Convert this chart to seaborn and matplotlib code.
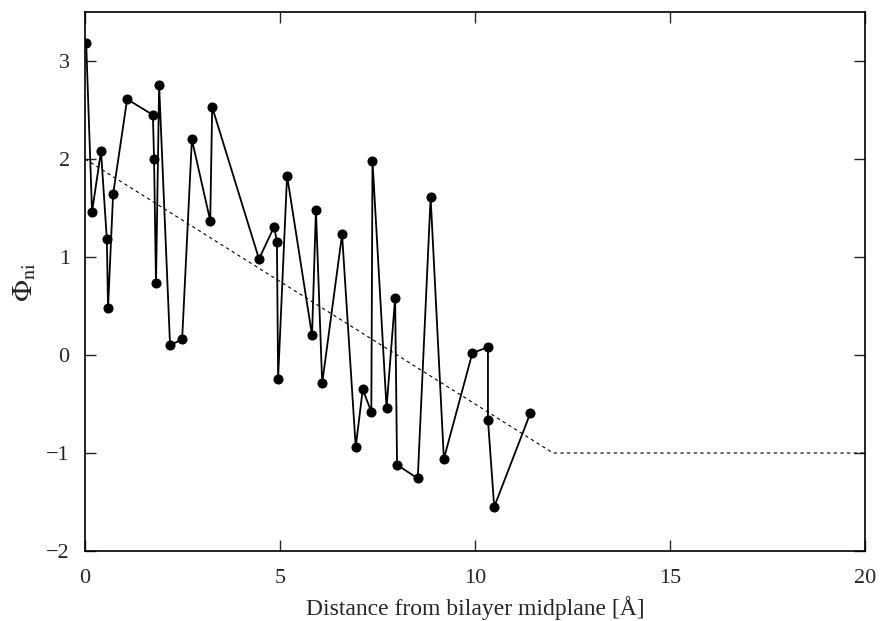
import numpy as np
import pandas as pd
import matplotlib
matplotlib.use("Agg")
import matplotlib.pyplot as plt
import seaborn as sns

# data
distance = [0.03, 0.18, 0.41, 0.56, 0.59, 0.72, 1.08, 1.74, 1.77, 1.82,
            1.90, 2.18, 2.49, 2.74, 3.21, 3.26, 4.46, 4.85, 4.92, 4.95,
            5.18, 5.82, 5.92, 6.08, 6.59, 6.94, 7.12, 7.34, 7.37, 7.73,
            7.95, 8.00, 8.53, 8.86, 9.20, 9.93, 10.33, 10.33, 10.49, 11.42]
phi = [3.18, 1.46, 2.08, 1.18, 0.48, 1.64, 2.61, 2.45, 2.00, 0.73,
       2.75, 0.10, 0.16, 2.20, 1.37, 2.53, 0.98, 1.31, 1.15, -0.24,
       1.83, 0.20, 1.48, -0.29, 1.23, -0.94, -0.35, -0.58, 1.98, -0.54,
       0.58, -1.12, -1.26, 1.61, -1.06, 0.02, 0.08, -0.66, -1.55, -0.59]

ref_x = [0, 12, 20]
ref_y = [2, -1, -1]

data = pd.DataFrame({"distance": distance, "phi": phi})
ref = pd.DataFrame({"distance": ref_x, "phi": ref_y})

sns.set_style("ticks")
plt.rcParams["font.family"] = ["Liberation Serif", "DejaVu Serif"]
plt.rcParams["mathtext.fontset"] = "stix"

fig = plt.figure(figsize=(8.81, 6.21), dpi=100)
ax = fig.add_axes([0.0965, 0.1127, 0.8855, 0.868])

sns.lineplot(x="distance", y="phi", data=ref, ax=ax, color="black",
             linewidth=0.8, linestyle=(0, (3, 3)), sort=False, estimator=None)
sns.lineplot(x="distance", y="phi", data=data, ax=ax, color="black",
             linewidth=1.3, marker="o", markersize=6.5, markeredgecolor="black",
             sort=False, estimator=None)

ax.set_xlim(0, 20)
ax.set_ylim(-2, 3.5)
ax.set_xticks([0, 5, 10, 15, 20])
ax.set_yticks([-2, -1, 0, 1, 2, 3])
ax.tick_params(direction="in", length=8, width=1, top=True, right=True,
               labelsize=16)
ax.tick_params(axis="x", pad=13)
ax.tick_params(axis="y", pad=11)
for s in ax.spines.values():
    s.set_linewidth(1.2)
    s.set_color("black")

ax.set_xlabel("Distance from bilayer midplane [Å]", fontsize=17, labelpad=6)
ax.set_ylabel(r"$\Phi_{\rm ni}$", fontsize=21, labelpad=6)

fig.savefig("out.png", dpi=100)
